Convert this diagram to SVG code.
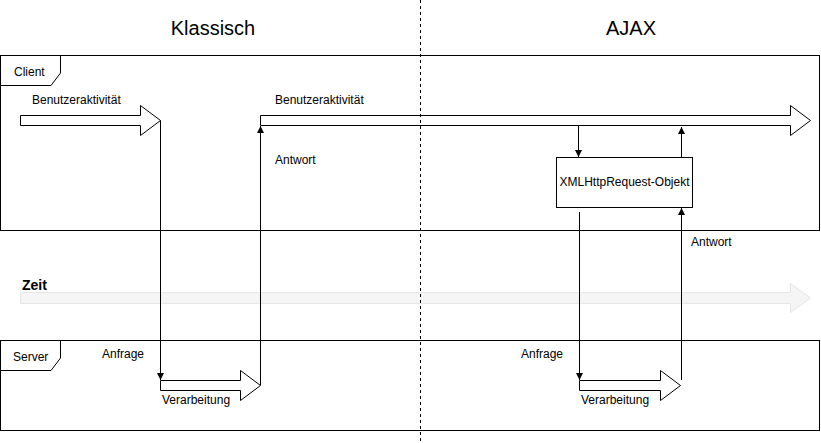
<svg xmlns="http://www.w3.org/2000/svg" width="821" height="443" viewBox="0 0 821 443">
<defs>
<marker id="ah" viewBox="0 0 10 10" refX="10" refY="5" markerWidth="7" markerHeight="7" markerUnits="userSpaceOnUse" orient="auto"><path d="M0,0 L10,5 L0,10 Z" fill="#000"/></marker>
<style>
text{font-family:"Liberation Sans",Arial,sans-serif;fill:#000}
.s{font-size:12px}
.t{font-size:20px;text-anchor:middle}
.frame{fill:#fff;stroke:#000;stroke-width:1}
.fa{fill:#fff;stroke:#000;stroke-width:1}
.c{fill:none;stroke:#000;stroke-width:1;marker-end:url(#ah)}
.l{fill:none;stroke:#000;stroke-width:1}
</style>
</defs>
<rect width="821" height="443" fill="#fff"/>
<g id="title-klassisch"><text class="t" x="213" y="35">Klassisch</text></g>
<g id="title-ajax"><text class="t" x="631" y="35">AJAX</text></g>
<g id="client">
<rect class="frame" x="0.5" y="55.5" width="819" height="175"/>
<path class="l" d="M0.5,55.5 H60.5 V73 L51,85.5 H0.5"/>
<text class="s" x="14" y="76">Client</text>
</g>
<g id="server">
<rect class="frame" x="0.5" y="340.5" width="819" height="90"/>
<path class="l" d="M0.5,340.5 H60.5 V358 L51,370.5 H0.5"/>
<text class="s" x="13" y="361">Server</text>
</g>
<g id="zeit">
<path d="M20.5,292.5 H790.5 V283.5 L810.5,298 L790.5,312.5 V303.5 H20.5 Z" fill="#f5f5f5" stroke="#e6e6e6"/>
<text x="22" y="290" style="font-size:14px;font-weight:bold">Zeit</text>
</g>
<g id="user-activity-classic">
<path class="fa" d="M20.5,115.5 H140.5 V105.5 L160.5,120.5 L140.5,135.5 V125.5 H20.5 Z"/>
<text class="s" x="32" y="104">Benutzeraktivität</text>
</g>
<g id="user-activity-ajax">
<path class="fa" d="M260.5,115.5 H790.5 V105.5 L810.5,120.5 L790.5,135.5 V125.5 H260.5 Z"/>
<text class="s" x="275" y="104">Benutzeraktivität</text>
</g>
<g id="processing-classic">
<path class="fa" d="M160.5,380.5 H240.5 V370.5 L260.5,385.5 L240.5,400.5 V390.5 H160.5 Z"/>
<text class="s" x="162" y="404">Verarbeitung</text>
</g>
<g id="processing-ajax">
<path class="fa" d="M579.5,380.5 H660.5 V370.5 L680.5,385.5 L660.5,400.5 V390.5 H579.5 Z"/>
<text class="s" x="581" y="404">Verarbeitung</text>
</g>
<g id="xhr">
<rect class="fa" x="556.5" y="157.5" width="136" height="50"/>
<text class="s" x="624.5" y="186" text-anchor="middle">XMLHttpRequest-Objekt</text>
</g>
<g id="connectors">
<line x1="420.5" y1="0" x2="420.5" y2="443" stroke="#000" stroke-dasharray="3,3"/>
<path class="c" d="M160.5,120.5 V380"/>
<path class="c" d="M260.5,385 V126"/>
<path class="c" d="M578.5,126 V157"/>
<path class="c" d="M681.5,157 V127"/>
<path class="c" d="M579.5,212 V380"/>
<path class="c" d="M681.5,380 V208"/>
</g>
<g id="labels">
<text class="s" x="102" y="358">Anfrage</text>
<text class="s" x="275" y="164">Antwort</text>
<text class="s" x="521" y="358">Anfrage</text>
<text class="s" x="691" y="246">Antwort</text>
</g>
</svg>
